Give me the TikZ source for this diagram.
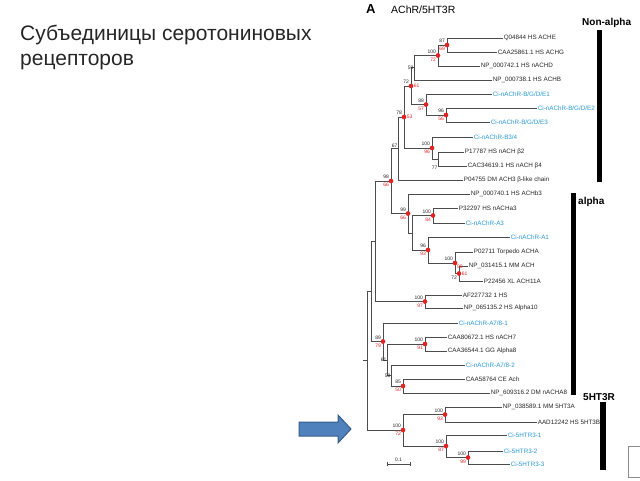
\documentclass[tikz,border=0pt]{standalone}
\usepackage{fontspec}
\setmainfont{Liberation Sans}
\usetikzlibrary{backgrounds}
\definecolor{ciblue}{RGB}{40,150,215}
\definecolor{bsred}{RGB}{225,35,35}
\definecolor{arrowfill}{RGB}{79,129,189}
\definecolor{arrowline}{RGB}{56,93,138}
\tikzstyle{branch} = [%
					line width = 0.7,
					color = black!70]
\tikzstyle{leaf} = [%
					anchor = west,
					inner sep = 0.6pt,
					font = \fontsize{6.3}{7}\selectfont,
					text = black!85]
\tikzstyle{cileaf} = [leaf, text = ciblue]
\tikzstyle{bsdot} = [circle, fill = bsred, draw = bsred, inner sep = 0pt, minimum size = 4.2pt]
\tikzstyle{bsup} = [font = \fontsize{5}{5}\selectfont, inner sep = 0.3pt, text = black!85]
\tikzstyle{bslo} = [bsup, text = bsred]
\tikzstyle{clade} = [font = \bfseries\fontsize{10}{10}\selectfont, anchor = west, inner sep = 0pt]

\begin{document}
\begin{tikzpicture}[x=1pt, y=-1pt, label distance=0pt]
		\useasboundingbox (0,0) rectangle (640,480);
		
		% Title
		\node[anchor=base west, inner sep=0pt, font=\fontsize{21}{25}\selectfont, text=black!85] (title1) at (20,40) {Субъединицы серотониновых};
		\node[anchor=base west, inner sep=0pt, font=\fontsize{21}{25}\selectfont, text=black!85] (title2) at (20,65) {рецепторов};
		
		% Panel heading
		\node[anchor=base west, inner sep=0pt, font=\bfseries\fontsize{13}{13}\selectfont] (panel) at (366,13) {A};
		\node[anchor=base west, inner sep=0pt, font=\fontsize{10.5}{10.5}\selectfont] (head) at (391,13) {AChR/5HT3R};
		
		% Leaves
		%% Non-alpha
		\node[leaf] (ache) at (503,38) {Q04844 HS ACHE};
		\node[leaf] (achg) at (497,52) {CAA25861.1 HS ACHG};
		\node[leaf] (achd) at (480,66) {NP\_000742.1 HS nACHD};
		\node[leaf] (achb) at (492,80) {NP\_000738.1 HS ACHB};
		\node[cileaf] (cie1) at (492,94) {Ci-nAChR-B/G/D/E1};
		\node[cileaf] (cie2) at (537,108) {Ci-nAChR-B/G/D/E2};
		\node[cileaf] (cie3) at (490,122) {Ci-nAChR-B/G/D/E3};
		\node[cileaf] (cib34) at (473,137) {Ci-nAChR-B3/4};
		\node[leaf] (hsb2) at (464,152) {P17787 HS nACH β2};
		\node[leaf] (hsb4) at (467,166) {CAC34619.1 HS nACH β4};
		\node[leaf] (dmb) at (463,180) {P04755 DM ACH3 β-like chain};
		%% alpha
		\node[leaf] (hsb3) at (470,194) {NP\_000740.1 HS ACHb3};
		\node[leaf] (hsa3) at (458,208) {P32297 HS nACHa3};
		\node[cileaf] (cia3) at (465,223) {Ci-nAChR-A3};
		\node[cileaf] (cia1) at (510,237) {Ci-nAChR-A1};
		\node[leaf] (tora) at (473,252) {P02711 Torpedo ACHA};
		\node[leaf] (mma) at (468,266) {NP\_031415.1 MM ACH};
		\node[leaf] (xla) at (483,281) {P22456 XL ACH11A};
		\node[leaf] (hsa9) at (462,295) {AF227732 1 HS};
		\node[leaf] (hsa10) at (463,308) {NP\_065135.2 HS Alpha10};
		\node[cileaf] (cia781) at (458,323) {Ci-nAChR-A7/8-1};
		\node[leaf] (hsa7) at (447,337) {CAA80672.1 HS nACH7};
		\node[leaf] (gga8) at (447,351) {CAA36544.1 GG Alpha8};
		\node[cileaf] (cia782) at (465,365) {Ci-nAChR-A7/8-2};
		\node[leaf] (cea) at (465,379) {CAA58764 CE Ach};
		\node[leaf] (dma8) at (490,393) {NP\_609316.2 DM nACHA8};
		%% 5HT3R
		\node[leaf] (mm5a) at (502,407) {NP\_038589.1 MM 5HT3A};
		\node[leaf] (hs5b) at (537,422) {AAD12242 HS 5HT3B};
		\node[cileaf] (ci51) at (507,435) {Ci-5HTR3-1};
		\node[cileaf] (ci52) at (503,451) {Ci-5HTR3-2};
		\node[cileaf] (ci53) at (510,464) {Ci-5HTR3-3};
		
		% Internal nodes
		\node[bsdot, label={[bsup]above left:87}, label={[bslo]below left:69}] (a) at (447,45) {};
		\node[bsdot, label={[bsup]above left:100}, label={[bslo]below left:72}] (b) at (438,55.5) {};
		\coordinate[label={[bsup]left:59}] (c) at (414,67.5);
		\node[bsdot, label={[bsup]above left:96}, label={[bslo]below left:56}] (e) at (446,115) {};
		\node[bsdot, label={[bsup]above left:88}, label={[bslo]below left:57}] (d) at (426,104.5) {};
		\node[bsdot, label={[bsup]above left:72}, label={[bslo]right:61}] (f) at (411,86) {};
		\coordinate[label={[bsup]below left:77}] (i) at (438,166);
		\coordinate (i') at (438,159);
		\node[bsdot, label={[bsup]above left:100}, label={[bslo]below left:96}] (h) at (432,148) {};
		\node[bsdot, label={[bsup]above left:78}, label={[bslo]right:53}] (g) at (404,117) {};
		\coordinate[label={[bsup]above left:67}] (j) at (398,148.5);
		\node[bsdot, label={[bsup]above left:100}, label={[bslo]below left:84}] (n) at (433,215.5) {};
		\node[bsdot, label={[bslo]right:61}, label={[bsup]below left:72}] (q) at (459,273.5) {};
		\node[bsdot, label={[bsup]above left:100}, label={[bslo]below right:99}] (p) at (455,263) {};
		\node[bsdot, label={[bsup]above left:96}, label={[bslo]below left:93}] (o) at (428,250) {};
		\coordinate (m) at (412,233);
		\node[bsdot, label={[bsup]above left:99}, label={[bslo]below left:66}] (l) at (408,213.5) {};
		\node[bsdot, label={[bsup]above left:98}, label={[bslo]below left:66}] (k) at (391,181) {};
		\node[bsdot, label={[bsup]above left:100}, label={[bslo]below left:97}] (r) at (425,301.5) {};
		\coordinate (s) at (375,241);
		\node[bsdot, label={[bsup]above left:100}, label={[bslo]below left:91}] (x) at (425,344) {};
		\node[bsdot, label={[bsup]above left:85}, label={[bslo]below left:50}] (z) at (403,386) {};
		\coordinate[label={[bsup]left:58}] (y) at (391,375.5);
		\coordinate[label={[bsup]left:61}] (w) at (387,360);
		\node[bsdot, label={[bsup]above left:89}, label={[bslo]below left:79}] (v) at (383,341.5) {};
		\coordinate (t) at (371,291);
		\node[bsdot, label={[bsup]above left:100}, label={[bslo]below left:93}] (aa) at (445,414.5) {};
		\node[bsdot, label={[bsup]above left:100}, label={[bslo]below left:99}] (dd) at (468,457.5) {};
		\node[bsdot, label={[bsup]above left:100}, label={[bslo]below left:87}] (cc) at (446,446) {};
		\node[bsdot, label={[bsup]above left:100}, label={[bslo]below left:72}] (bb) at (403,430) {};
		\coordinate (root) at (367,360);
		
		\begin{scope}[on background layer]
			% Branches
			\draw[branch] (a.center) |- (ache.west) (a.center) |- (achg.west);
			\draw[branch] (b.center) |- (a.center) (b.center) |- (achd.west);
			\draw[branch] (c) |- (b.center) (c) |- (achb.west);
			\draw[branch] (e.center) |- (cie2.west) (e.center) |- (cie3.west);
			\draw[branch] (d.center) |- (cie1.west) (d.center) |- (e.center);
			\draw[branch] (f.center) |- (c) (f.center) |- (d.center);
			\draw[branch] (i') |- (hsb2.west) (i') |- (hsb4.west);
			\draw[branch] (h.center) |- (cib34.west) (h.center) |- (i');
			\draw[branch] (g.center) |- (f.center) (g.center) |- (h.center);
			\draw[branch] (j) |- (g.center) (j) |- (dmb.west);
			\draw[branch] (n.center) |- (hsa3.west) (n.center) |- (cia3.west);
			\draw[branch] (q.center) |- (mma.west) (q.center) |- (xla.west);
			\draw[branch] (p.center) |- (tora.west) (p.center) |- (q.center);
			\draw[branch] (o.center) |- (cia1.west) (o.center) |- (p.center);
			\draw[branch] (m) |- (n.center) (m) |- (o.center);
			\draw[branch] (l.center) |- (hsb3.west) (l.center) |- (m);
			\draw[branch] (k.center) |- (j) (k.center) |- (l.center);
			\draw[branch] (r.center) |- (hsa9.west) (r.center) |- (hsa10.west);
			\draw[branch] (s) |- (k.center) (s) |- (r.center);
			\draw[branch] (x.center) |- (hsa7.west) (x.center) |- (gga8.west);
			\draw[branch] (z.center) |- (cea.west) (z.center) |- (dma8.west);
			\draw[branch] (y) |- (cia782.west) (y) |- (z.center);
			\draw[branch] (w) |- (x.center) (w) |- (y);
			\draw[branch] (v.center) |- (cia781.west) (v.center) |- (w);
			\draw[branch] (t) |- (s) (t) |- (v.center);
			\draw[branch] (aa.center) |- (mm5a.west) (aa.center) |- (hs5b.west);
			\draw[branch] (dd.center) |- (ci52.west) (dd.center) |- (ci53.west);
			\draw[branch] (cc.center) |- (ci51.west) (cc.center) |- (dd.center);
			\draw[branch] (bb.center) |- (aa.center) (bb.center) |- (cc.center);
			\draw[branch] (root) |- (t) (root) |- (bb.center);
			\draw[branch] (root) -- ++(-4,0);
		\end{scope}
		
		% Scale bar
		\coordinate (sb1) at (387,464);
		\coordinate (sb2) at (410,464);
		\draw[branch] (sb1) -- (sb2) (sb1) -- ++(0,-2) (sb1) -- ++(0,2) (sb2) -- ++(0,-2) (sb2) -- ++(0,2);
		\node[bsup, anchor=south] (sblabel) at (398.5,462.5) {0.1};
		
		% Clade bars
		\fill (597,30) rectangle (602,182);
		\node[clade] (nonalpha) at (582,23) {Non-alpha};
		\fill (571,193) rectangle (576,395);
		\node[clade] (alpha) at (578,202) {alpha};
		\fill (600,402) rectangle (606,470);
		\node[clade] (htr) at (583,397) {5HT3R};
		
		% Frame corner
		\draw[black!45, line width=0.6] (640,446) -- (628,446) -- (628,477) -- (640,477);
		
		% Arrow
		\draw[arrowline, fill=arrowfill, line width=1] (299,422) -- (338,422) -- (338,415) -- (351,429) -- (338,443) -- (338,436) -- (299,436) -- cycle;
	\end{tikzpicture}
\end{document}
